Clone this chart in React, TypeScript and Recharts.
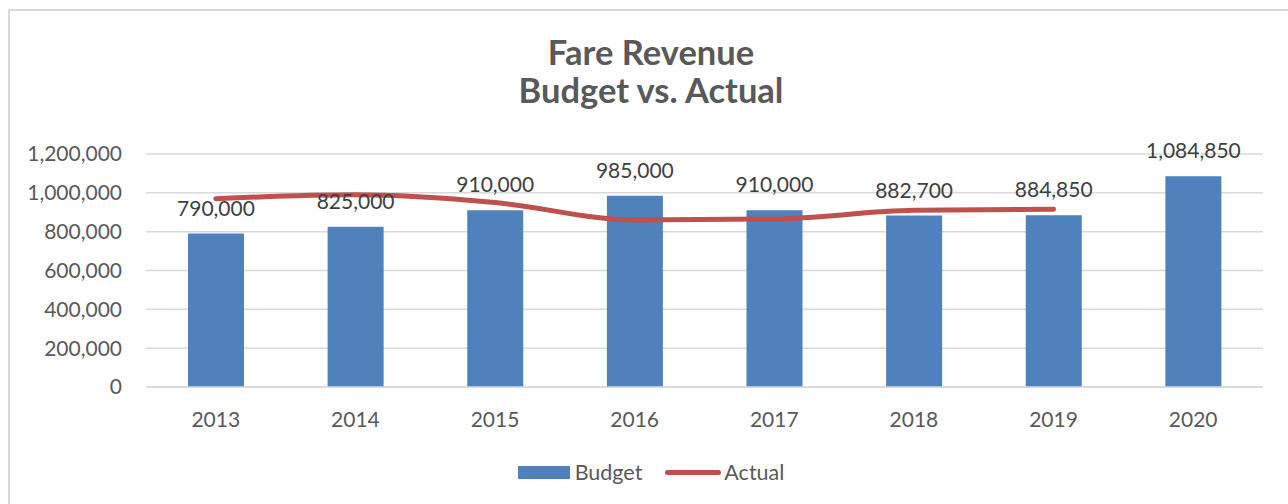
import React from "react";
import {
  ComposedChart,
  Bar,
  Line,
  XAxis,
  YAxis,
  CartesianGrid,
  LabelList,
} from "recharts";

const years = ["2013", "2014", "2015", "2016", "2017", "2018", "2019", "2020"];
const budget = [790000, 825000, 910000, 985000, 910000, 882700, 884850, 1084850];
const actual: (number | null)[] = [970000, 990000, 950000, 860000, 865000, 910000, 915000, null];
const yTicks = [0, 200000, 400000, 600000, 800000, 1000000, 1200000];
const titleLines = ["Fare Revenue", "Budget vs. Actual"];
const seriesNames = ["Budget", "Actual"];

const data = years.map((y, i) => ({ year: y, budget: budget[i], actual: actual[i] }));

const FONT = "Lato, 'Open Sans', sans-serif";
const BLUE = "#4F81BD";
const RED = "#C0504D";
const fmt = (v: number) => v.toLocaleString("en-US");

export default function App() {
  return (
    <div
      style={{
        position: "fixed",
        left: 0,
        top: 0,
        width: 1288,
        height: 504,
        overflow: "hidden",
        background: "#fff",
        fontFamily: FONT,
      }}
    >
      <div
        style={{
          position: "absolute",
          left: 8,
          top: 9,
          width: 1320,
          height: 540,
          border: "2px solid #d9d9d9",
          boxSizing: "border-box",
        }}
      />
      <div
        style={{
          position: "absolute",
          left: 351,
          top: 33,
          width: 600,
          textAlign: "center",
          fontSize: 34.5,
          fontWeight: 700,
          lineHeight: "38px",
          color: "#595959",
        }}
      >
        {titleLines.map((t) => (
          <div key={t}>{t}</div>
        ))}
      </div>
      <div style={{ position: "absolute", left: 0, top: 0 }}>
        <ComposedChart
          width={1288}
          height={504}
          data={data}
          margin={{ top: 154, right: 25, bottom: 87, left: 0 }}
        >
          <CartesianGrid vertical={false} stroke="#d9d9d9" strokeWidth={1.5} />
          <XAxis
            dataKey="year"
            height={30}
            axisLine={{ stroke: "#d9d9d9", strokeWidth: 1.5 }}
            tickLine={false}
            tickSize={0}
            tickMargin={25}
            tick={{ fill: "#595959", fontSize: 21, fontFamily: FONT }}
          />
          <YAxis
            width={146}
            domain={[0, 1200000]}
            ticks={yTicks}
            axisLine={false}
            tickLine={false}
            tickSize={0}
            tickMargin={24}
            tickFormatter={fmt}
            tick={{ fill: "#595959", fontSize: 21, fontFamily: FONT }}
          />
          <Bar dataKey="budget" fill={BLUE} barSize={56} isAnimationActive={false}>
            <LabelList
              dataKey="budget"
              position="top"
              offset={18}
              formatter={(v: any) => fmt(Number(v))}
              style={{ fill: "#404040", fontSize: 21, fontFamily: FONT }}
            />
          </Bar>
          <Line
            dataKey="actual"
            type="monotone"
            stroke={RED}
            strokeWidth={5}
            strokeLinecap="round"
            dot={false}
            activeDot={false}
            connectNulls={false}
            isAnimationActive={false}
          />
        </ComposedChart>
      </div>
      <div
        style={{
          position: "absolute",
          left: 0,
          top: 459,
          width: 1302,
          display: "flex",
          justifyContent: "center",
          alignItems: "center",
          fontSize: 21.5,
          color: "#595959",
          height: 26,
        }}
      >
        <div style={{ width: 52, height: 13, background: BLUE, marginRight: 5 }} />
        <span style={{ marginRight: 23 }}>{seriesNames[0]}</span>
        <div style={{ width: 56, height: 5, background: RED, borderRadius: 3, marginRight: 3 }} />
        <span>{seriesNames[1]}</span>
      </div>
    </div>
  );
}
